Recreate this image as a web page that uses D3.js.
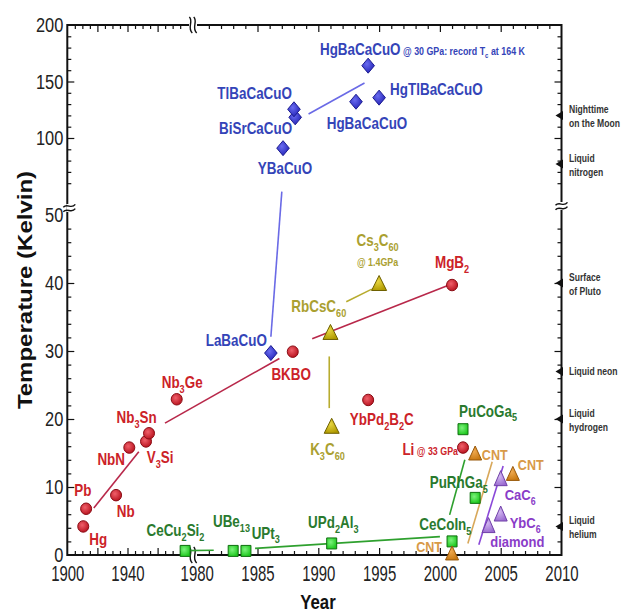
<!DOCTYPE html>
<html><head><meta charset="utf-8">
<script src="https://cdn.jsdelivr.net/npm/d3@7"></script>
<style>body{margin:0;background:#fff}svg{display:block;font-family:"Liberation Sans",Arial,sans-serif}</style>
</head><body>
<svg id="chart" width="621" height="613"></svg>
<script>
// ---- Superconductor discoveries: year vs. critical temperature (K) ----
// Conventional / BCS superconductors
const bcsNames = ["Hg","Pb","Nb","NbN","V_{3}Si","Nb_{3}Sn","Nb_{3}Ge","BKBO","YbPd_{2}B_{2}C","MgB_{2}","Li~{ @ 33 GPa}"];
const bcsYears = [1910.6,1912.5,1932.4,1941.2,1952.3,1954.3,1972.7,1987.9,1994.1,2001.0,2001.9];
const bcsTc    = [4.2,6.8,8.8,15.8,16.7,17.9,22.9,29.9,22.8,39.7,15.8];
// Cuprates
const cuprateNames = ["LaBaCuO","YBaCuO","BiSrCaCuO","TlBaCaCuO","HgBaCaCuO","HgTlBaCaCuO","HgBaCaCuO~{ @ 30 GPa: record T}^{c}~{ at 164 K}"];
const cuprateYears = [1986.1,1987.1,1988.1,1988.0,1993.1,1995.0,1994.1];
const cuprateTc    = [29.7,91,118.3,125.4,132.1,135.7,164];
// Fullerides
const fullerideNames = ["K_{3}C_{60}","RbCsC_{60}","Cs_{3}C_{60}|~{@ 1.4GPa}"];
const fullerideYears = [1991.1,1991.0,1995.0];
const fullerideTc    = [19.0,32.8,40.0];
// Heavy-fermion compounds
const heavyNames = ["CeCu_{2}Si_{2}","UBe_{13}","UPt_{3}","UPd_{2}Al_{3}","CeCoIn_{5}","PuRhGa_{5}","PuCoGa_{5}"];
const heavyYears = [1978.3,1983.0,1984.05,1991.1,2001.0,2002.9,2001.9];
const heavyTc    = [0.6,0.6,0.6,1.7,2.0,8.4,18.5];
// Carbon nanotubes
const cntNames = ["CNT","CNT","CNT"];
const cntYears = [2001.0,2002.9,2006.0];
const cntTc    = [0.3,15.0,12.0];
// Diamond and graphite intercalation compounds
const carbonNames = ["diamond","CaC_{6}","YbC_{6}"];
const carbonYears = [2004.0,2005.0,2005.0];
const carbonTc    = [4.4,11.3,6.1];

// Trend lines [year, K]
const bcsTrendA = [[1917.6,6.9],[1947.5,15.2]];
const bcsTrendB = [[1964.9,19.4],[1986.8,28.9]];
const bcsTrendC = [[1989.5,31.8],[2000.6,39.6]];
const cuprateTrendA = [[1987.0,52.5],[1986.1,32.1]];
const cuprateTrendB = [[1989.2,121.2],[1993.8,148.7]];
const fullerideTrendA = [[1990.9,29.2],[1990.9,21.6]];
const fullerideTrendB = [[1992.3,37.25],[1994.4,39.1]];
const heavyTrendA = [[1978.3,0.65],[1981.4,0.7]];
const heavyTrendB = [[1984.8,0.98],[2000.0,2.7]];
const heavyTrendC = [[2000.8,5.9],[2002.05,14.0]];
const cntTrend = [[2002.3,1.7],[2004.3,13.7]];
const carbonTrend = [[2003.2,1.5],[2005.2,13.1]];

// Reference temperatures on the right-hand axis
const refNames = [["Nighttime","on the Moon"],["Liquid","nitrogen"],["Surface","of Pluto"],["Liquid neon"],["Liquid","hydrogen"],["Liquid","helium"]];
const refTemps = [120,77,40,27,20,4.2];

// Axis ticks
const xLeftLabels = [1900,1940];
const xRightLabels = [1980,1985,1990,1995,2000,2005,2010];
const yLowLabels = [0,10,20,30,40,50];
const yHighLabels = [100,150,200];

// ---- layout ----
const svg = d3.select("#chart");
const L = 67.3, R = 561.5, T = 25, B = 555;
const xL = d3.scaleLinear().domain([1900,1980]).range([L,187.7]);
const xR = d3.scaleLinear().domain([1980,2010]).range([196.7,R]);
const yLo = d3.scaleLinear().domain([0,50]).range([B,215]);
const yHi = d3.scaleLinear().domain([40.7,200]).range([205,T]);
const X = v => v < 1980 ? xL(v) : xR(v);
const Y = v => v > 50 ? yHi(v) : yLo(v);
const SX = 0.84; // horizontal squeeze of the lettering

// gradients
const defs = svg.append("defs");
function radial(id, c0, c1){
  const g = defs.append("radialGradient").attr("id",id).attr("cx","40%").attr("cy","38%").attr("r","65%");
  g.append("stop").attr("offset","0%").attr("stop-color",c0);
  g.append("stop").attr("offset","100%").attr("stop-color",c1);
}
radial("gRed","#f0606a","#b8121e");
radial("gBlue","#6a6cf0","#2424b8");
radial("gGreen","#7cf27c","#1ec81e");
radial("gOlive","#e8d640","#b09a00");
radial("gOrange","#f0aa50","#c87810");
radial("gPurple","#d2b8f0","#9a6ad0");

// frame
svg.append("rect").attr("x",L).attr("y",T).attr("width",R-L).attr("height",B-T)
  .attr("fill","none").attr("stroke","#111").attr("stroke-width",2);

// ticks
function range(a,b,s){const r=[];for(let v=a;v<=b+1e-9;v+=s)r.push(+v.toFixed(3));return r;}
function tickAxis(axis, transform){
  const g = svg.append("g").attr("transform",transform).call(axis);
  g.select(".domain").remove();
  g.selectAll("line").attr("stroke","#111").attr("stroke-width",1.2);
  return g;
}
const xLMinor = range(1905,1975,5).filter(v=>v%20!==0);
const xLMajor = [1920,1940,1960];
const xRMinor = range(1981,2009,1).filter(v=>v%5!==0);
const xRMajor = [1985,1990,1995,2000,2005];
[[B,"Bottom"],[T,"Top"]].forEach(([yy,side])=>{
  const mk = s => side==="Bottom" ? d3.axisBottom(s) : d3.axisTop(s);
  tickAxis(mk(xL).tickValues(xLMinor).tickSize(-4).tickFormat(""),`translate(0,${yy})`);
  tickAxis(mk(xL).tickValues(xLMajor).tickSize(-7).tickFormat(""),`translate(0,${yy})`);
  tickAxis(mk(xR).tickValues(xRMinor).tickSize(-4).tickFormat(""),`translate(0,${yy})`);
  tickAxis(mk(xR).tickValues(xRMajor).tickSize(-7).tickFormat(""),`translate(0,${yy})`);
});
const yLoMinor = range(2,48,2).filter(v=>v%10!==0);
const yLoMajor = [10,20,30,40];
const yHiMinor = range(50,190,10).filter(v=>v%50!==0);
const yHiMajor = [100,150];
[[L,"Left"],[R,"Right"]].forEach(([xx,side])=>{
  const mk = s => side==="Left" ? d3.axisLeft(s) : d3.axisRight(s);
  tickAxis(mk(yLo).tickValues(yLoMinor).tickSize(-4).tickFormat(""),`translate(${xx},0)`);
  tickAxis(mk(yLo).tickValues(yLoMajor).tickSize(-7).tickFormat(""),`translate(${xx},0)`);
  tickAxis(mk(yHi).tickValues(yHiMinor).tickSize(-4).tickFormat(""),`translate(${xx},0)`);
  tickAxis(mk(yHi).tickValues(yHiMajor).tickSize(-7).tickFormat(""),`translate(${xx},0)`);
});

// tick labels
function labelAxis(axis, transform, fs){
  const g = svg.append("g").attr("transform",transform).call(axis);
  g.select(".domain").remove();
  g.selectAll("line").remove();
  g.selectAll("text").attr("fill","#222").style("font-size",fs+"px")
    .style("font-family","'Liberation Sans',Arial,sans-serif");
  return g;
}
[[xL,xLeftLabels],[xR,xRightLabels]].forEach(([s,vals])=>{
  const g = labelAxis(d3.axisBottom(s).tickValues(vals).tickSize(0).tickPadding(10).tickFormat(d3.format("d")),`translate(0,${B})`,22);
  g.selectAll("text").attr("x",0).attr("transform","scale(0.68,1)");
});
[[yLo,yLowLabels],[yHi,yHighLabels]].forEach(([s,vals])=>{
  const g = labelAxis(d3.axisLeft(s).tickValues(vals).tickSize(0).tickPadding(0).tickFormat(d3.format("d")),`translate(${L-4},0)`,20.5);
  g.selectAll("text").attr("x",0).attr("dy","0.34em").attr("transform","scale(0.8,1)");
});

// axis breaks
function breakX(x,y){
  svg.append("rect").attr("x",x-4).attr("y",y-3).attr("width",8).attr("height",6).attr("fill","#fff");
  [-2.2,2.2].forEach(o=>{
    svg.append("path").attr("d",`M${x+o-1.5},${y-8} C${x+o+3},${y-4} ${x+o-4},${y+3} ${x+o+1.5},${y+8}`)
      .attr("fill","none").attr("stroke","#111").attr("stroke-width",1.4);
  });
}
function breakY(x,y){
  svg.append("rect").attr("x",x-3).attr("y",y-4).attr("width",6).attr("height",8).attr("fill","#fff");
  [-2.2,2.2].forEach(o=>{
    svg.append("path").attr("d",`M${x-6},${y+o+1.5} C${x-2},${y+o-3} ${x+2},${y+o+4} ${x+6},${y+o-1.5}`)
      .attr("fill","none").attr("stroke","#111").attr("stroke-width",1.4);
  });
}
breakX(193,B); breakX(193,T);
breakY(L+2,208); breakY(R,206);

// axis titles
svg.append("text").attr("transform",`translate(318,609) scale(0.8,1)`).attr("text-anchor","middle")
  .attr("font-weight","bold").style("font-size","21px").attr("fill","#111").text("Year");
svg.append("text").attr("transform",`translate(32,290) rotate(-90) scale(1,0.84)`).attr("text-anchor","middle")
  .attr("font-weight","bold").style("font-size","24px").attr("fill","#111").text("Temperature (Kelvin)");

// rich text: _{sub}, ~{small}, ^{small sub}, | line break
function rich(g, str, size, lineGap){
  str.split("|").forEach((line,li)=>{
    const t = g.append("text").attr("y",li*lineGap);
    let shift = 0;
    line.split(/(_\{[^}]*\}|~\{[^}]*\}|\^\{[^}]*\})/).filter(s=>s.length).forEach(seg=>{
      let txt = seg, fs = size, sh = 0;
      if(seg.startsWith("_{")){txt=seg.slice(2,-1);fs=size*0.68;sh=size*0.3;}
      else if(seg.startsWith("~{")){txt=seg.slice(2,-1);fs=size*0.66;}
      else if(seg.startsWith("^{")){txt=seg.slice(2,-1);fs=size*0.45;sh=size*0.18;}
      t.append("tspan").attr("dy",sh-shift).style("font-size",fs+"px").text(txt);
      shift = sh;
    });
  });
}

// label placement offsets from each marker: [dx, dy(baseline), anchor]
const bcsLabelPos = [[6,18.4,"start"],[-3.2,-12.3,"middle"],[0.7,21.7,"start"],[-4.3,17.7,"end"],[0.7,21.7,"start"],[7.7,-10,"end"],[-15,-11,"start"],[-1.6,28,"middle"],[-18.3,25,"start"],[0,-17,"middle"],[-5,7,"end"]];
const cuprateLabelPos = [[-4,-7,"end"],[2,26,"middle"],[-3,16.7,"end"],[-2,-10,"end"],[11,27,"middle"],[11,-3,"start"],[-48.2,-10.7,"start"]];
const fullerideLabelPos = [[-4.2,29,"middle"],[-11.7,-20,"middle"],[-1.5,-36.6,"middle"]];
const heavyLabelPos = [[-9.7,-14.7,"middle"],[-1.7,-24,"middle"],[5.7,-12.4,"start"],[1.6,-15,"middle"],[-6.7,-11,"middle"],[12.6,-9.4,"end"],[25,-12.6,"middle"]];
const cntLabelPos = [[-10,-1,"end"],[6.7,6.7,"start"],[5,-3.3,"start"]];
const carbonLabelPos = [[1.7,22,"start"],[4,21.7,"start"],[9,14.5,"start"]];

const families = [
  {names:bcsNames, years:bcsYears, tc:bcsTc, pos:bcsLabelPos, shape:"circle", fill:"url(#gRed)", stroke:"#8a0c14", text:"#cc2228", line:"#b8284a", size:[11,11.5], fs:16, trends:[bcsTrendA,bcsTrendB,bcsTrendC]},
  {names:cuprateNames, years:cuprateYears, tc:cuprateTc, pos:cuprateLabelPos, shape:"diamond", fill:"url(#gBlue)", stroke:"#1c1c90", text:"#3444b8", line:"#6a6ae6", size:[12.6,15], fs:16, trends:[cuprateTrendA,cuprateTrendB]},
  {names:fullerideNames, years:fullerideYears, tc:fullerideTc, pos:fullerideLabelPos, shape:"triangle", fill:"url(#gOlive)", stroke:"#6e6000", text:"#aaa030", line:"#b8ac30", size:[15,15], fs:16, trends:[fullerideTrendA,fullerideTrendB]},
  {names:heavyNames, years:heavyYears, tc:heavyTc, pos:heavyLabelPos, shape:"square", fill:"url(#gGreen)", stroke:"#107010", text:"#2a7a2e", line:"#2ea02e", size:[10,11], fs:16, trends:[heavyTrendA,heavyTrendB,heavyTrendC]},
  {names:cntNames, years:cntYears, tc:cntTc, pos:cntLabelPos, shape:"triangle", fill:"url(#gOrange)", stroke:"#98580a", text:"#d89a48", line:"#d8a85a", size:[13,14], fs:15, trends:[cntTrend]},
  {names:carbonNames, years:carbonYears, tc:carbonTc, pos:carbonLabelPos, shape:"triangle", fill:"url(#gPurple)", stroke:"#7040a8", text:"#8a3cc8", line:"#8a48d8", size:[13,15], fs:15.5, trends:[carbonTrend]}
];

// trend lines first, then markers, then labels
const lineGen = d3.line().x(d=>X(d[0])).y(d=>Y(d[1]));
families.forEach(f=>{
  f.trends.forEach(tr=>svg.append("path").attr("d",lineGen(tr)).attr("fill","none")
    .attr("stroke",f.line).attr("stroke-width",1.6));
});
function shapePath(kind,w,h){
  const a=w/2,b=h/2;
  if(kind==="diamond") return `M0,${-b}L${a},0L0,${b}L${-a},0Z`;
  if(kind==="triangle") return `M0,${-b}L${a},${b}L${-a},${b}Z`;
  if(kind==="square") return `M${-a},${-b}H${a}V${b}H${-a}Z`;
  return `M${-a},0A${a},${b} 0 1,0 ${a},0A${a},${b} 0 1,0 ${-a},0Z`;
}
families.forEach(f=>{
  const pts = f.years.map((y,i)=>({x:X(y), y:Y(f.tc[i]), name:f.names[i], pos:f.pos[i]}));
  svg.append("g").selectAll("path").data(pts).join("path")
    .attr("transform",d=>`translate(${d.x},${d.y})`)
    .attr("d",shapePath(f.shape,f.size[0],f.size[1]))
    .attr("fill",f.fill).attr("stroke",f.stroke).attr("stroke-width",1);
  pts.forEach(d=>{
    const g = svg.append("g")
      .attr("transform",`translate(${d.x+d.pos[0]},${d.y+d.pos[1]}) scale(${SX},1)`)
      .attr("text-anchor",d.pos[2]).attr("font-weight","bold").attr("fill",f.text);
    rich(g, d.name, f.fs, 20);
  });
});

// reference temperatures on the right axis
refTemps.forEach((t,i)=>{
  const y = Y(t);
  svg.append("path").attr("d",`M${R-6},${y}L${R+1.5},${y-4.5}L${R+1.5},${y+4.5}Z`).attr("fill","#111");
  const lines = refNames[i];
  const g = svg.append("g").attr("font-weight","bold").attr("fill","#333");
  lines.forEach((s,k)=>{
    const by = lines.length===1 ? y+3.5 : y-2+k*14;
    g.append("text").attr("transform",`translate(569,${by}) scale(0.78,1)`).style("font-size","11px").text(s);
  });
});
</script>
</body></html>
